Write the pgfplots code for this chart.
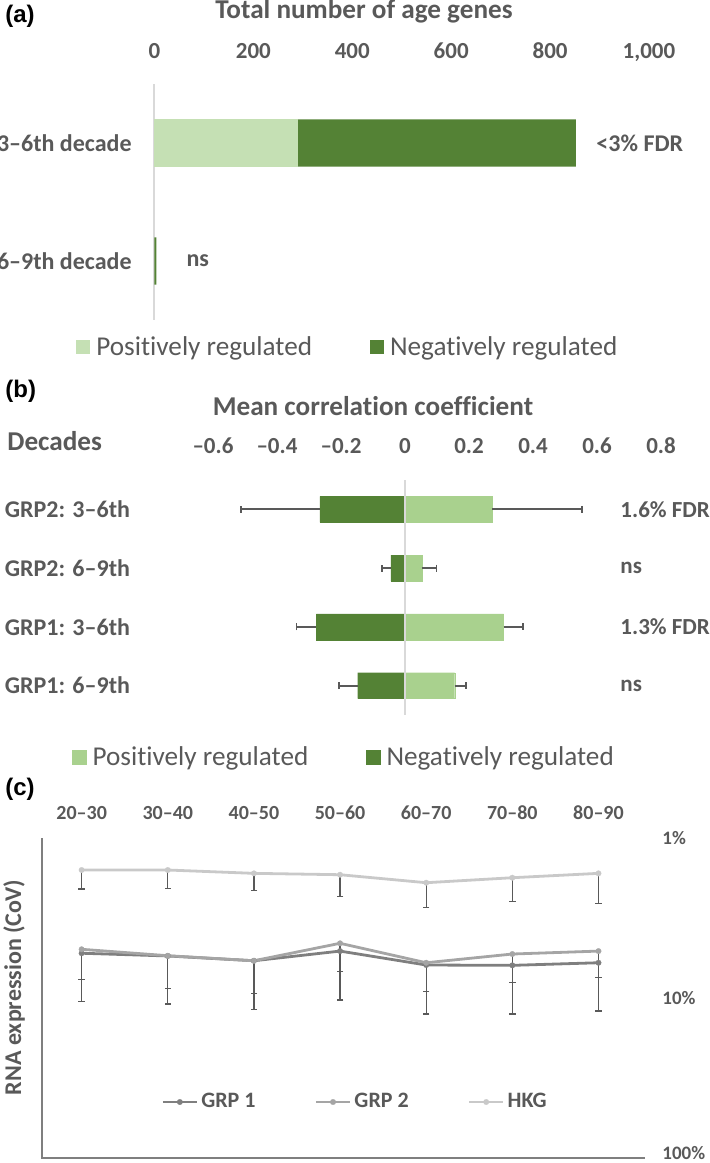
\documentclass[border=0pt]{standalone}
\usepackage{pgfplots}
\pgfplotsset{compat=1.18}
\usepackage{fontspec}
\setmainfont{Carlito}[Ligatures=NoCommon]
\newfontfamily\panelfont{Liberation Sans}
\definecolor{txt}{HTML}{595959}
\definecolor{dg}{HTML}{548235}
\definecolor{lgA}{HTML}{C5E0B4}
\definecolor{lgB}{HTML}{A9D18E}
\definecolor{zl}{HTML}{D9D9D9}
\definecolor{g1}{HTML}{7F7F7F}
\definecolor{g2}{HTML}{A5A5A5}
\definecolor{hk}{HTML}{C9C9C9}
\definecolor{eb}{HTML}{595959}
\pgfplotsset{
  sq/.style={legend image code/.code={\fill[##1] (0pt,-3.5pt) rectangle (7pt,3.5pt);}},
}
\begin{document}
\begin{tikzpicture}
\useasboundingbox (0,0) rectangle (354.5pt,-581.5pt);

% ---------------- (a)
\begin{axis}[
  scale only axis, width=247.25pt, height=118pt,
  at={(77.25pt,-160pt)}, anchor=south west,
  xmin=0, xmax=1000, ymin=-0.5, ymax=1.5, y dir=reverse,
  xbar stacked, bar width=0.4,
  axis line style={draw=none}, major tick length=0pt, minor tick length=0pt,
  xtick={0,200,400,600,800,1000}, xticklabels={0,200,400,600,800,{1,000}},
  xticklabel pos=top,
  xticklabel style={anchor=base, yshift=13pt, font=\fontsize{11.5}{13}\selectfont\bfseries, text=txt},
  ytick={0,1}, yticklabels={3–6th decade,6–9th decade},
  yticklabel style={anchor=east, inner sep=0pt, xshift=-11.25pt, font=\fontsize{12}{14}\selectfont\bfseries, text=txt},
  clip=false,
  legend columns=2,
  legend style={draw=none, fill=none, at={(axis description cs:0.395,-0.115)}, anchor=center,
    font=\fontsize{13.6}{15}\selectfont, text=txt, nodes={inner sep=3pt},
    /tikz/every even column/.append style={column sep=26pt}},
]
\addplot[fill=lgA, draw=none, sq] coordinates {(290,0) (0,1)};
\addplot[fill=dg, draw=none, sq] coordinates {(562,0) (4,1)};
\legend{Positively regulated, Negatively regulated}
\draw[zl, line width=1pt] (axis cs:0,-0.5) -- (axis cs:0,1.5);
\node[anchor=west, inner sep=0pt, font=\fontsize{12}{14}\selectfont\bfseries, text=txt] at (axis cs:893,0) {<3\% FDR};
\node[anchor=west, inner sep=0pt, font=\fontsize{12}{14}\selectfont\bfseries, text=txt] at (axis cs:64,1) {ns};
\end{axis}

% ---------------- (b)
\begin{axis}[
  scale only axis, width=224pt, height=117.5pt,
  at={(106.5pt,-357.5pt)}, anchor=south west,
  xmin=-0.6, xmax=0.8, ymin=-0.5, ymax=3.5, y dir=reverse,
  xbar, bar width=0.44,
  axis line style={draw=none}, major tick length=0pt, minor tick length=0pt,
  xtick={-0.6,-0.4,-0.2,0,0.2,0.4,0.6,0.8}, xticklabels={–0.6,–0.4,–0.2,0,0.2,0.4,0.6,0.8},
  xticklabel pos=top,
  xticklabel style={anchor=base, yshift=13.5pt, font=\fontsize{11.5}{13}\selectfont\bfseries, text=txt},
  ytick={0,1,2,3}, yticklabels={GRP2: 3–6th,GRP2: 6–9th,GRP1: 3–6th,GRP1: 6–9th},
  yticklabel style={anchor=west, inner sep=0pt, xshift=-104.25pt, font=\fontsize{12}{14}\selectfont\bfseries, text=txt},
  clip=false,
  legend columns=2,
  legend style={draw=none, fill=none, at={(axis description cs:0.297,-0.179)}, anchor=center,
    font=\fontsize{13.6}{15}\selectfont, text=txt, nodes={inner sep=3pt},
    /tikz/every even column/.append style={column sep=26pt}},
]
\addplot[fill=lgB, draw=lgB, line width=0.1pt, sq, bar shift=0pt,
  error bars/.cd, x dir=plus, x explicit, error mark=|,
  error bar style={draw=eb, line width=0.9pt}, error mark options={solid, draw=eb, line width=0.9pt, mark size=1.8pt}]
  coordinates {(0.273,0) += (0.280,0) (0.0525,1) += (0.046,0) (0.308,2) += (0.060,0) (0.155,3) += (0.035,0)};
\addplot[fill=dg, draw=dg, line width=0.1pt, sq, bar shift=0pt,
  error bars/.cd, x dir=minus, x explicit, error mark=|,
  error bar style={draw=eb, line width=0.9pt}, error mark options={solid, draw=eb, line width=0.9pt, mark size=1.8pt}]
  coordinates {(-0.266,0) -= (0.247,0) (-0.044,1) -= (0.029,0) (-0.277,2) -= (0.062,0) (-0.148,3) -= (0.058,0)};
\legend{Positively regulated, Negatively regulated}
\draw[zl, line width=1pt] (axis cs:0,-0.5) -- (axis cs:0,3.5);
\node[anchor=west, inner sep=0pt, font=\fontsize{11.5}{14}\selectfont\bfseries, text=txt] at (axis cs:0.672,0) {1.6\% FDR};
\node[anchor=west, inner sep=0pt, font=\fontsize{11.5}{14}\selectfont\bfseries, text=txt] at (axis cs:0.672,1) {ns};
\node[anchor=west, inner sep=0pt, font=\fontsize{11.5}{14}\selectfont\bfseries, text=txt] at (axis cs:0.672,2) {1.3\% FDR};
\node[anchor=west, inner sep=0pt, font=\fontsize{11.5}{14}\selectfont\bfseries, text=txt] at (axis cs:0.672,3) {ns};
\end{axis}

% ---------------- (c)
\begin{axis}[
  scale only axis, width=301.5pt, height=160pt,
  at={(21pt,-579pt)}, anchor=south west,
  xmin=-0.46, xmax=6.54, ymode=log, ymin=1, ymax=100, y dir=reverse,
  axis line style={draw=none}, major tick length=0pt, minor tick length=0pt,
  xtick={0,1,2,3,4,5,6}, xticklabels={20–30,30–40,40–50,50–60,60–70,70–80,80–90},
  xticklabel pos=top,
  xticklabel style={anchor=base, yshift=9.5pt, font=\fontsize{10}{12}\selectfont\bfseries, text=txt},
  ytick={1,10}, yticklabels={1\%,10\%}, yticklabel pos=right,
  extra y ticks={100}, extra y tick labels={100\%},
  extra y tick style={yticklabel style={yshift=2.5pt}},
  yticklabel style={anchor=west, inner sep=0pt, xshift=8.5pt, font=\fontsize{9.5}{11}\selectfont\bfseries, text=txt},
  clip=false,
  legend columns=3,
  legend style={draw=none, fill=none, at={(axis description cs:0.52,0.175)}, anchor=center,
    font=\fontsize{11}{13}\selectfont\bfseries, text=txt, nodes={inner sep=1.5pt},
    /tikz/every even column/.append style={column sep=28pt}},
]
\addplot[g1, line width=1.4pt, mark=*, mark size=1.4pt, mark options={fill=g1, draw=g1, line width=0.1pt},
  error bars/.cd, y dir=plus, y explicit, error mark=|,
  error bar style={draw=eb, line width=0.6pt}, error mark options={solid, draw=eb, line width=0.6pt, mark size=1.6pt}]
  coordinates {(0,5.25) += (0,5.30) (1,5.46) += (0,5.44) (2,5.85) += (0,5.92) (3,5.09) += (0,5.21)
               (4,6.22) += (0,6.37) (5,6.25) += (0,6.34) (6,6.02) += (0,6.04)};
\addplot[g2, line width=1.4pt, mark=*, mark size=1.4pt, mark options={fill=g2, draw=g2, line width=0.1pt},
  error bars/.cd, y dir=plus, y explicit, error mark=|,
  error bar style={draw=eb, line width=0.6pt}, error mark options={solid, draw=eb, line width=0.6pt, mark size=1.6pt}]
  coordinates {(0,4.96) += (0,2.68) (1,5.44) += (0,3.26) (2,5.85) += (0,3.50) (3,4.55) += (0,2.30)
               (4,6.02) += (0,3.12) (5,5.31) += (0,2.67) (6,5.09) += (0,2.34)};
\addplot[hk, line width=1.4pt, mark=*, mark size=1.4pt, mark options={fill=hk, draw=hk, line width=0.1pt},
  error bars/.cd, y dir=plus, y explicit, error mark=|,
  error bar style={draw=eb, line width=0.6pt}, error mark options={solid, draw=eb, line width=0.6pt, mark size=1.6pt}]
  coordinates {(0,1.585) += (0,0.50) (1,1.585) += (0,0.49) (2,1.663) += (0,0.47) (3,1.696) += (0,0.63)
               (4,1.903) += (0,0.82) (5,1.771) += (0,0.73) (6,1.663) += (0,0.90)};
\legend{GRP 1, GRP 2, HKG}
\draw[g1, line width=0.8pt] (axis cs:-0.46,1) -- (axis cs:-0.46,100) -- (axis cs:6.54,100);
\end{axis}

% ---------------- titles and panel labels
\node[anchor=west, inner sep=0pt, font={\panelfont\bfseries\fontsize{12}{14}\selectfont}] at (2.5pt,-8pt) {(a)};
\node[anchor=west, inner sep=0pt, font={\panelfont\bfseries\fontsize{12}{14}\selectfont}] at (2.5pt,-195.5pt) {(b)};
\node[anchor=west, inner sep=0pt, font={\panelfont\bfseries\fontsize{12}{14}\selectfont}] at (2.5pt,-394.5pt) {(c)};
\node[anchor=base, inner sep=0pt, font=\fontsize{13.6}{15}\selectfont\bfseries, text=txt] at (182pt,-9.2pt) {Total number of age genes};
\node[anchor=base, inner sep=0pt, font=\fontsize{13.6}{15}\selectfont\bfseries, text=txt] at (186.5pt,-207.5pt) {Mean correlation coefficient};
\node[anchor=base west, inner sep=0pt, font=\fontsize{13.6}{15}\selectfont\bfseries, text=txt] at (3.5pt,-225.25pt) {Decades};
\node[rotate=90, inner sep=0pt, font=\fontsize{12}{14}\selectfont\bfseries, text=txt] at (7pt,-493.75pt) {RNA expression (CoV)};
\end{tikzpicture}
\end{document}
